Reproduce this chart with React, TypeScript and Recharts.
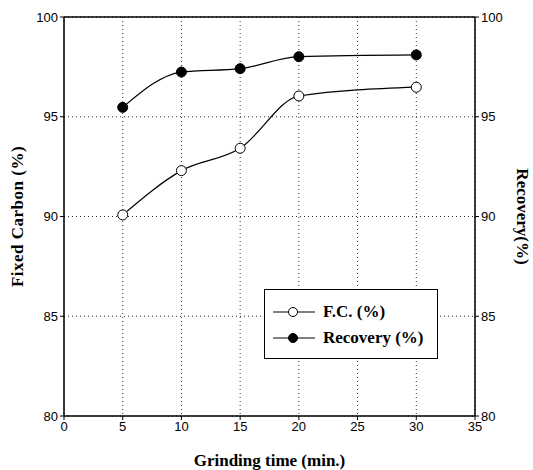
import React from 'react';
import { ComposedChart, Line, XAxis, YAxis, CartesianGrid, ReferenceLine } from 'recharts';

const times = [5, 10, 15, 20, 30];
const fixedCarbon = [90.08, 92.3, 93.42, 96.04, 96.48];
const recovery = [95.47, 97.24, 97.41, 98.01, 98.1];
const xTicks = [0, 5, 10, 15, 20, 25, 30, 35];
const yTicks = [80, 85, 90, 95, 100];

const data = times.map((t, i) => ({ t, fc: fixedCarbon[i], rec: recovery[i] }));

const serif = '"Liberation Serif", "DejaVu Serif", serif';
const sans = '"Liberation Sans", Arial, sans-serif';

const LegendBox = () => (
  <div
    style={{
      position: 'absolute',
      left: 264,
      top: 289,
      width: 174,
      height: 70,
      border: '1px solid #000',
      background: '#fff',
      boxSizing: 'border-box',
      fontFamily: serif,
      fontWeight: 'bold',
      fontSize: 17,
      color: '#000',
      paddingTop: 9,
    }}
  >
    {[
      { label: 'F.C. (%)', fill: '#fff' },
      { label: 'Recovery (%)', fill: '#000' },
    ].map((e) => (
      <div key={e.label} style={{ display: 'flex', alignItems: 'center', height: 26 }}>
        <svg width={52} height={14} style={{ marginLeft: 6 }}>
          <line x1={2} y1={7} x2={44} y2={7} stroke="#000" strokeWidth={1.2} />
          <circle cx={22} cy={7} r={4.5} fill={e.fill} stroke="#000" strokeWidth={1} />
        </svg>
        <span>{e.label}</span>
      </div>
    ))}
  </div>
);

export default function App() {
  return (
    <div style={{ position: 'absolute', left: 0, top: 0, width: 533, height: 470, background: '#fff' }}>
      <ComposedChart width={533} height={470} data={data} margin={{ top: 17, right: 0, left: 0, bottom: 0 }}>
        <CartesianGrid yAxisId="left" stroke="#333" strokeDasharray="1 3" vertical horizontal />
        <XAxis
          dataKey="t"
          type="number"
          domain={[0, 35]}
          ticks={xTicks}
          height={54}
          axisLine={{ stroke: '#000', strokeWidth: 1.5 }}
          tickLine={{ stroke: '#000' }}
          tickSize={4}
          tick={{ fill: '#000', fontSize: 13, fontFamily: sans }}
          label={{
            value: 'Grinding time (min.)',
            position: 'insideBottom',
            offset: 4,
            style: { fontFamily: serif, fontWeight: 'bold', fontSize: 17, fill: '#000' },
          }}
        />
        <YAxis
          yAxisId="left"
          domain={[80, 100]}
          ticks={yTicks}
          width={64}
          axisLine={{ stroke: '#000', strokeWidth: 1.5 }}
          tickLine={{ stroke: '#000' }}
          tickSize={4}
          tick={{ fill: '#000', fontSize: 13, fontFamily: sans }}
          label={{
            value: 'Fixed Carbon (%)',
            angle: -90,
            position: 'insideLeft',
            offset: 17,
            style: { textAnchor: 'middle', fontFamily: serif, fontWeight: 'bold', fontSize: 17, fill: '#000', letterSpacing: 0.5 },
          }}
        />
        <YAxis
          yAxisId="right"
          orientation="right"
          domain={[80, 100]}
          ticks={yTicks}
          width={58}
          axisLine={{ stroke: '#000', strokeWidth: 1.5 }}
          tickLine={{ stroke: '#000' }}
          tickSize={4}
          tick={{ fill: '#000', fontSize: 13, fontFamily: sans }}
          label={{
            value: 'Recovery(%)',
            angle: 90,
            position: 'insideRight',
            offset: 10,
            style: { textAnchor: 'middle', fontFamily: serif, fontWeight: 'bold', fontSize: 17, fill: '#000' },
          }}
        />
        <ReferenceLine yAxisId="left" y={100} stroke="#000" strokeWidth={1.5} />
        <Line
          yAxisId="left"
          type="monotone"
          dataKey="fc"
          stroke="#000"
          strokeWidth={1.2}
          dot={{ r: 5, fill: '#fff', stroke: '#000', strokeWidth: 1 }}
          isAnimationActive={false}
        />
        <Line
          yAxisId="right"
          type="monotone"
          dataKey="rec"
          stroke="#000"
          strokeWidth={1.2}
          dot={{ r: 5, fill: '#000', stroke: '#000', strokeWidth: 1 }}
          isAnimationActive={false}
        />
      </ComposedChart>
      <LegendBox />
    </div>
  );
}
